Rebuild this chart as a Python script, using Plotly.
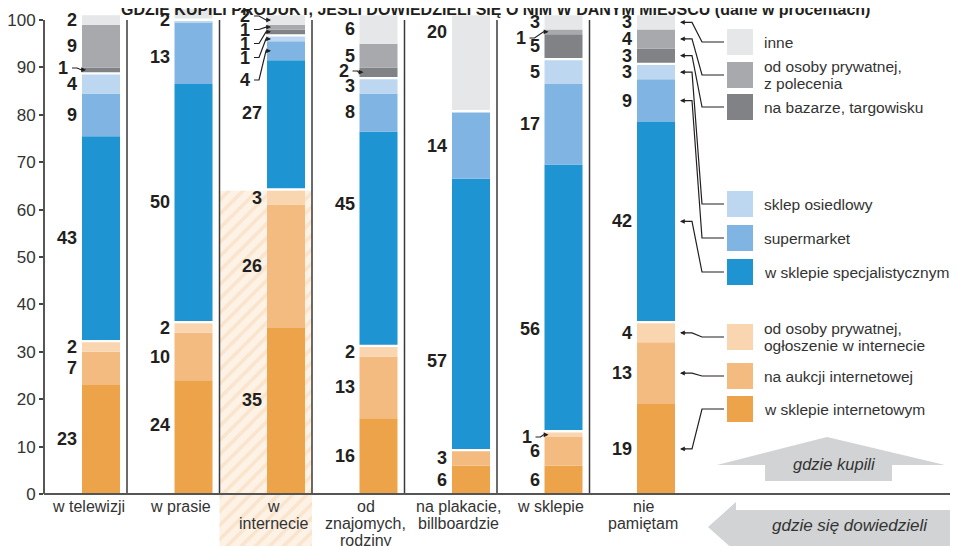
import plotly.graph_objects as go

# ---------------- data ----------------
categories = ["w telewizji", "w prasie", "w<br>internecie", "od<br>znajomych,<br>rodziny",
              "na plakacie,<br>billboardzie", "w sklepie", "nie<br>pamiętam"]

# stacked bottom -> top
w_sklepie_internetowym = [23, 24, 35, 16, 6, 6, 19]
na_aukcji_internetowej = [7, 10, 26, 13, 3, 6, 13]
od_osoby_ogloszenie = [2, 2, 3, 2, 0, 1, 4]
w_sklepie_specjalistycznym = [43, 50, 27, 45, 57, 56, 42]
supermarket = [9, 13, 4, 8, 14, 17, 9]
sklep_osiedlowy = [4, 0.3, 1, 3, 0, 5, 3]
na_bazarze = [1, 0, 1, 2, 0, 5, 3]
od_osoby_polecenie = [9, 0, 1, 5, 0, 1, 4]
inne = [2, 2, 2, 6, 20, 3, 3]

series_values = [w_sklepie_internetowym, na_aukcji_internetowej, od_osoby_ogloszenie,
                 w_sklepie_specjalistycznym, supermarket, sklep_osiedlowy,
                 na_bazarze, od_osoby_polecenie, inne]
series_names = [["w sklepie internetowym"], ["na aukcji internetowej"],
                ["od osoby prywatnej,", "ogłoszenie w internecie"],
                ["w sklepie specjalistycznym"], ["supermarket"], ["sklep osiedlowy"],
                ["na bazarze, targowisku"], ["od osoby prywatnej,", "z polecenia"], ["inne"]]
series_group = [0, 0, 0, 1, 1, 1, 2, 2, 2]
y_ticks = [0, 10, 20, 30, 40, 50, 60, 70, 80, 90, 100]
title_text = "GDZIE KUPILI PRODUKT, JEŚLI DOWIEDZIELI SIĘ O NIM W DANYM MIEJSCU (dane w procentach)"

# ---------------- style ----------------
colors = ["#eda349", "#f4bb80", "#f9d6b0", "#1e94d2", "#80b5e3", "#bdd7f0",
          "#808285", "#a7a9ac", "#e6e7e8"]
TXT = "#231f20"
GREY_TXT = "#333333"
FONT = "Liberation Sans"
WIN_W, WIN_H = 958, 546
OFF = 8            # page body margin
PX_L = 44          # axis position in window pixels
X_UNIT = 92.5
X_ORIGIN_PX = 101
Y_ZERO_PX = 494
Y_UNIT = 4.74
GAP = 0.5
BW_PX = 38

X0 = -(X_ORIGIN_PX - PX_L) / X_UNIT
X1 = X0 + (WIN_W - PX_L) / X_UNIT
Y0 = -(WIN_H - Y_ZERO_PX) / Y_UNIT
Y1 = (Y_ZERO_PX - OFF) / Y_UNIT


def xd(px):
    return X0 + (px - PX_L) / X_UNIT


def yd(py):
    return (Y_ZERO_PX - py) / Y_UNIT


def xp(x):
    return PX_L + (x - X0) * X_UNIT


def yp(y):
    return Y_ZERO_PX - y * Y_UNIT


def bar_left(i):
    return xp(i) - BW_PX / 2


def bar_right(i):
    return xp(i) + BW_PX / 2


def path(points):
    return "M " + " L ".join(f"{xd(a):.4f},{yd(b):.4f}" for a, b in points)


n = len(categories)
xs = list(range(n))

# bases
bases = [[0] * n for _ in series_values]
for i in range(n):
    run = 0
    for k, vals in enumerate(series_values):
        if k > 0 and series_group[k] != series_group[k - 1]:
            run += GAP
        bases[k][i] = run
        run += vals[i]

fig = go.Figure()

# hatch behind "w internecie"
sep = [bar_right(i) + 7 for i in range(n - 1)]
hatch_top = sum(series_values[k][2] for k in range(3))
fig.add_trace(go.Bar(
    x=[xd((sep[1] + sep[2]) / 2)], y=[hatch_top - Y0], base=[Y0],
    width=[(sep[2] - sep[1]) / X_UNIT],
    marker=dict(color="#fdf2e6", line_width=0,
                pattern=dict(shape="/", fgcolor="#f8d6b2", size=10, solidity=0.35)),
    hoverinfo="skip", showlegend=False))

for k, vals in enumerate(series_values):
    fig.add_trace(go.Bar(
        x=xs, y=vals, base=bases[k], width=BW_PX / X_UNIT,
        marker=dict(color=colors[k], line_width=0),
        hoverinfo="skip", showlegend=False))

shapes = []
ann = []

# separators, axis line, baseline
for s in sep:
    shapes.append(dict(type="line", xref="x", yref="y", x0=xd(s), x1=xd(s), y0=0, y1=100,
                       line=dict(color="#3a3a3a", width=1.5)))
shapes.append(dict(type="line", xref="paper", yref="y", x0=0, x1=0, y0=0, y1=100,
                   line=dict(color="#444444", width=1.8)))
shapes.append(dict(type="line", xref="paper", yref="y", x0=0, x1=1, y0=0, y1=0,
                   line=dict(color="#555555", width=2)))

# value labels
overrides = {(1, 0): 14.6, (2, 3): 80.4, (2, 0): 19.8, (3, 3): 61.2,
             (4, 3): 28.0, (4, 8): 97.5, (5, 3): 34.8,
             (1, 8): yd(20), (1, 4): yd(57)}
leaders = {(0, 6): (68, 12), (2, 8): (16, 15), (2, 7): (29.5, 15), (2, 6): (43.5, 15),
           (2, 5): (57.5, 15), (2, 4): (80, 15), (3, 6): (71, 9), (5, 7): (38, 17),
           (5, 2): (437, 11)}
num_font = dict(family=FONT, size=18, color=TXT)


def arrowhead(tip_px, ty, ax):
    ann.append(dict(x=xd(tip_px), y=ty, xref="x", yref="y", text="", showarrow=True,
                    ax=ax, ay=0, arrowhead=2, arrowsize=0.8, arrowwidth=1.2,
                    arrowcolor=TXT, standoff=0))


for k, vals in enumerate(series_values):
    for i in range(n):
        v = vals[i]
        if v < 1:
            continue
        center = bases[k][i] + v / 2
        if (i, k) in leaders:
            ly, gap = leaders[(i, k)]
            right = bar_left(i) - gap
            ann.append(dict(x=xd(right), y=yd(ly), xref="x", yref="y", text=f"<b>{v}</b>",
                            showarrow=False, xanchor="right", yanchor="middle", font=num_font))
            ty_px = yp(center)
            shapes.append(dict(type="path", xref="x", yref="y",
                               path=path([(right + 2, ly), (right + 7, ly),
                                          (bar_left(i) - 1, ty_px), (bar_left(i) + 2, ty_px)]),
                               line=dict(color=TXT, width=1.2)))
            arrowhead(bar_left(i) + 4, center, -6)
        else:
            y = overrides.get((i, k), center)
            ann.append(dict(x=xd(bar_left(i) - 3), y=y, xref="x", yref="y", text=f"<b>{v}</b>",
                            showarrow=False, xanchor="right", yanchor="middle", font=num_font))

# category labels
for i, c in enumerate(categories):
    for j, line in enumerate(c.split("<br>")):
        ann.append(dict(x=xd(xp(i) - 13), y=yd(506 + 17 * j), xref="x", yref="y", text=line,
                        showarrow=False, xanchor="center", yanchor="middle",
                        font=dict(family=FONT, size=16, color=GREY_TXT)))

# legend with connectors to last column
legend_rows = {8: 42, 7: 75, 6: 107, 5: 204, 4: 238, 3: 272, 2: 337, 1: 376, 0: 409}
last = n - 1
for k, row in legend_rows.items():
    shapes.append(dict(type="rect", xref="x", yref="y", x0=xd(727), x1=xd(753),
                       y0=yd(row + 13), y1=yd(row - 13), fillcolor=colors[k], line_width=0))
    lines = series_names[k]
    for j, line in enumerate(lines):
        off = (j - (len(lines) - 1) / 2) * 16.5
        ann.append(dict(x=xd(762), y=yd(row + off), xref="x", yref="y", text=line,
                        showarrow=False, xanchor="left", yanchor="middle",
                        font=dict(family=FONT, size=15.5, color=GREY_TXT)))
    center = bases[k][last] + series_values[k][last] / 2
    ty = yp(center)
    tip = bar_right(last) + 5
    shapes.append(dict(type="path", xref="x", yref="y",
                       path=path([(tip + 5, ty), (tip + 12, ty), (tip + 22, row), (724, row)]),
                       line=dict(color=TXT, width=1.2)))
    arrowhead(tip, center, 7)

# big arrows
up_arrow = [(717, 465), (827, 437), (945, 465), (892, 465), (892, 481), (765, 481), (765, 465)]
left_arrow = [(708, 527), (736, 502), (736, 510), (958, 510), (958, 546), (736, 546), (736, 552)]
for poly in (up_arrow, left_arrow):
    shapes.append(dict(type="path", xref="x", yref="y", path=path(poly) + " Z",
                       fillcolor="#d1d3d4", line_width=0, layer="below"))
ann.append(dict(x=xd(834), y=yd(464), xref="x", yref="y", text="<i>gdzie kupili</i>",
                showarrow=False, font=dict(family=FONT, size=16.5, color=GREY_TXT)))
ann.append(dict(x=xd(850), y=yd(525), xref="x", yref="y", text="<i>gdzie się dowiedzieli</i>",
                showarrow=False, font=dict(family=FONT, size=17, color=GREY_TXT)))

# title (cut at top as in reference)
ann.append(dict(x=xd(495), y=yd(9), xref="x", yref="y", text=f"<b>{title_text}</b>",
                showarrow=False, xanchor="center", yanchor="middle",
                font=dict(family=FONT, size=16, color=TXT)))

fig.update_layout(
    width=WIN_W - OFF, height=WIN_H - OFF, margin=dict(l=PX_L - OFF, r=0, t=0, b=0),
    paper_bgcolor="white", plot_bgcolor="rgba(0,0,0,0)",
    barmode="overlay", showlegend=False,
    xaxis=dict(range=[X0, X1], visible=False, fixedrange=True),
    yaxis=dict(range=[Y0, Y1], tickvals=y_ticks, ticks="outside", ticklen=4, tickwidth=1.5,
               tickcolor="#444444", showgrid=False, zeroline=False, showline=False,
               tickfont=dict(family=FONT, size=17, color=GREY_TXT), fixedrange=True),
    shapes=shapes, annotations=ann,
)

fig.write_html("out.html")
